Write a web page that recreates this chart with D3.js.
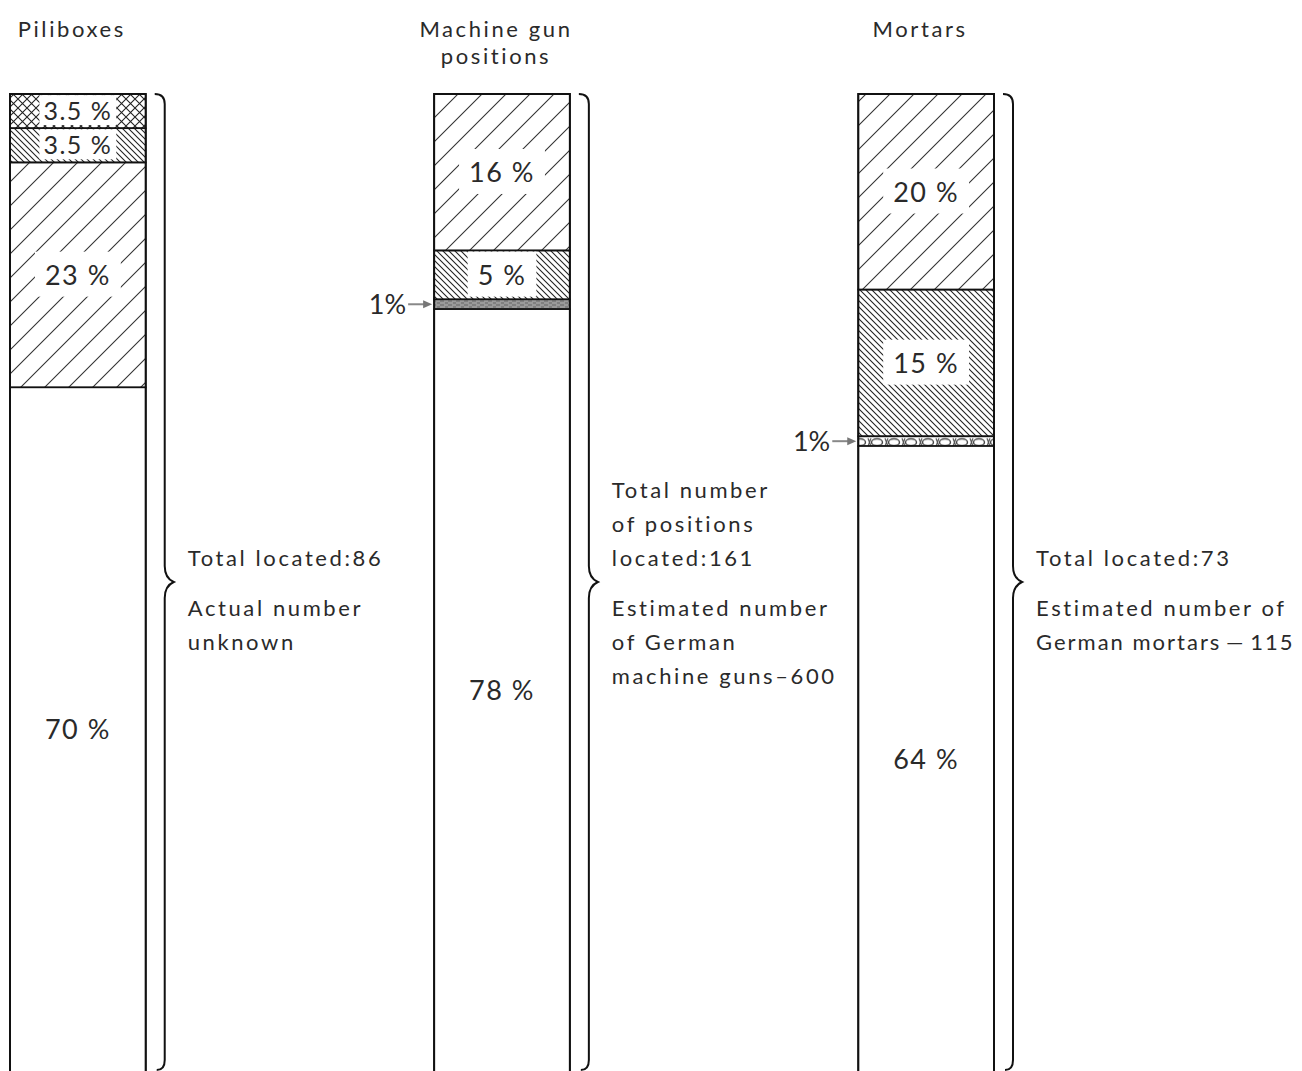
<!DOCTYPE html>
<html>
<head>
<meta charset="utf-8">
<script src="https://cdn.jsdelivr.net/npm/d3@7"></script>
<style>
  body { margin: 0; background: #fff; }
  svg text { font-family: "Lato", "Open Sans", sans-serif; font-weight: 400; fill: #2a2a2a; }
</style>
</head>
<body>
<div id="vis"></div>
<script>
// Data: one column per category, segments from top to bottom
const CATEGORIES = ["Piliboxes", "Machine gun positions", "Mortars"];
const TITLE_LINES = [["Piliboxes"], ["Machine gun", "positions"], ["Mortars"]];

const PILLBOX_VALUES = [3.5, 3.5, 23, 70];
const MG_VALUES = [16, 5, 1, 78];
const MORTAR_VALUES = [20, 15, 1, 64];

const PILLBOX_FILLS = ["cross", "dense", "sparse", "none"];
const MG_FILLS = ["sparse", "dense", "gray", "none"];
const MORTAR_FILLS = ["sparse", "dense", "rings", "none"];

const PILLBOX_LABELS = ["3.5 %", "3.5 %", "23 %", "70 %"];
const MG_LABELS = ["16 %", "5 %", "1%", "78 %"];
const MORTAR_LABELS = ["20 %", "15 %", "1%", "64 %"];

const NOTES_TOP = [["Total located:86"], ["Total number", "of positions", "located:161"], ["Total located:73"]];
const NOTES_BOTTOM = [["Actual number", "unknown"], ["Estimated number", "of German", "machine guns\u2013600"], ["Estimated number of", "German mortars\u2009\u2014\u2009115"]];

const ALL_VALUES = [PILLBOX_VALUES, MG_VALUES, MORTAR_VALUES];
const ALL_FILLS = [PILLBOX_FILLS, MG_FILLS, MORTAR_FILLS];
const ALL_LABELS = [PILLBOX_LABELS, MG_LABELS, MORTAR_LABELS];

// Frame
const FRAME_WIDTH = 1302;
const FRAME_HEIGHT = 1071;

const svg = d3.select("#vis")
  .append("svg")
    .attr("width", FRAME_WIDTH)
    .attr("height", FRAME_HEIGHT);

// scales
const X_SCALE = d3.scaleBand()
  .domain(CATEGORIES)
  .range([10, 994])
  .paddingInner(0.68)
  .paddingOuter(0);

const Y_SCALE = d3.scaleLinear()
  .domain([0, 100])
  .range([94, 1072]);

// Hatch patterns
const defs = svg.append("defs");

const sparse = defs.append("pattern")
  .attr("id", "sparse").attr("patternUnits", "userSpaceOnUse")
  .attr("width", 24).attr("height", 24);
sparse.append("path").attr("d", "M-6,30 L30,-6 M-6,6 L6,-6 M18,30 L30,18")
  .attr("stroke", "#333").attr("stroke-width", 1.1);

const dense = defs.append("pattern")
  .attr("id", "dense").attr("patternUnits", "userSpaceOnUse")
  .attr("width", 6).attr("height", 6);
dense.append("path").attr("d", "M-2,-2 L8,8 M-2,4 L2,8 M4,-2 L8,2")
  .attr("stroke", "#222").attr("stroke-width", 1.1);

const cross = defs.append("pattern")
  .attr("id", "cross").attr("patternUnits", "userSpaceOnUse")
  .attr("width", 9).attr("height", 9);
cross.append("path").attr("d", "M0,0 L9,9 M9,0 L0,9")
  .attr("stroke", "#222").attr("stroke-width", 1.1);

const gray = defs.append("pattern")
  .attr("id", "gray").attr("patternUnits", "userSpaceOnUse")
  .attr("width", 8).attr("height", 4);
gray.append("rect").attr("width", 8).attr("height", 4).attr("fill", "#9a9a9a");
gray.append("path").attr("d", "M0,1 L4,1 M5,3 L8,3")
  .attr("stroke", "#666").attr("stroke-width", 1);

const rings = defs.append("pattern")
  .attr("id", "rings").attr("patternUnits", "userSpaceOnUse")
  .attr("width", 17).attr("height", 12).attr("y", Y_SCALE(35));
rings.append("ellipse").attr("cx", 10).attr("cy", 6).attr("rx", 5.5).attr("ry", 3.5)
  .attr("fill", "none").attr("stroke", "#444").attr("stroke-width", 1.4);
rings.append("path").attr("d", "M1,2 L4,10 M4,2 L1,10")
  .attr("stroke", "#555").attr("stroke-width", 1.2);

// shrink letter spacing if a note would run off the right edge
function fitNote(sel) {
  let ls = 2.6;
  while (ls > 0 && sel.node().getBBox().x + sel.node().getBBox().width > FRAME_WIDTH - 6) {
    ls -= 0.2;
    sel.attr("letter-spacing", ls);
  }
}

// Build the columns
ALL_VALUES.forEach((values, i) => {
  const cat = CATEGORIES[i];
  const x0 = X_SCALE(cat);
  const bw = X_SCALE.bandwidth();
  const cx = x0 + bw / 2;

  // stack
  let acc = 0;
  const segs = values.map((v, j) => {
    const s = {start: acc, end: acc + v, fill: ALL_FILLS[i][j], label: ALL_LABELS[i][j]};
    acc += v;
    return s;
  });

  const g = svg.append("g");

  g.selectAll("rect.seg")
    .data(segs)
    .enter()
    .append("rect")
      .attr("class", "seg")
      .attr("x", x0)
      .attr("y", (d) => Y_SCALE(d.start))
      .attr("width", bw)
      .attr("height", (d) => Y_SCALE(d.end) - Y_SCALE(d.start))
      .attr("fill", (d) => d.fill === "none" ? "#fff" : "url(#" + d.fill + ")")
      .attr("stroke", "#111")
      .attr("stroke-width", 1.6);

  // outline
  g.append("rect")
    .attr("x", x0).attr("y", Y_SCALE(0))
    .attr("width", bw).attr("height", Y_SCALE(100) - Y_SCALE(0))
    .attr("fill", "none").attr("stroke", "#111").attr("stroke-width", 2);

  // labels in segments
  segs.forEach((d) => {
    const h = Y_SCALE(d.end) - Y_SCALE(d.start);
    const my = (Y_SCALE(d.start) + Y_SCALE(d.end)) / 2;
    if (h < 20) {
      // small segment: label outside with arrow
      const tx = x0 - 28;
      g.append("text")
        .attr("x", tx).attr("y", my + 10)
        .attr("text-anchor", "end")
        .attr("font-size", 27)
        .text(d.label);
      g.append("line")
        .attr("x1", tx + 2).attr("y1", my)
        .attr("x2", x0 - 6).attr("y2", my)
        .attr("stroke", "#888").attr("stroke-width", 2);
      g.append("path")
        .attr("d", "M" + (x0 - 2) + "," + my + " l-9,-4 l0,8 z")
        .attr("fill", "#777");
      return;
    }
    const fs = h < 40 ? 25 : 27;
    const t = g.append("text")
      .attr("x", cx).attr("y", my + fs * 0.36)
      .attr("text-anchor", "middle")
      .attr("font-size", fs)
      .attr("letter-spacing", 1.5)
      .text(d.label);
    if (d.fill !== "none") {
      const bb = t.node().getBBox();
      const padX = h < 40 ? 4 : 10, padY = h < 40 ? 0 : 6;
      g.insert("rect", "text")
        .attr("x", bb.x - padX)
        .attr("y", Math.max(bb.y - padY, Y_SCALE(d.start) + 1))
        .attr("width", bb.width + 2 * padX)
        .attr("height", Math.min(bb.height + 2 * padY, h - 2))
        .attr("fill", "#fff");
    }
  });

  // title
  TITLE_LINES[i].forEach((line, k) => {
    svg.append("text")
      .attr("x", cx - 6).attr("y", 37 + k * 27)
      .attr("text-anchor", "middle")
      .attr("font-size", 22)
      .attr("letter-spacing", 2.6)
      .text(line);
  });

  // brace
  const bx = x0 + bw + 19;
  const top = Y_SCALE(0), bot = Y_SCALE(100) - 2, mid = (top + bot) / 2;
  g.append("path")
    .attr("d",
      "M" + (bx - 10) + "," + top +
      " Q" + bx + "," + top + " " + bx + "," + (top + 10) +
      " L" + bx + "," + (mid - 16) +
      " Q" + bx + "," + (mid - 4) + " " + (bx + 9) + "," + mid +
      " Q" + bx + "," + (mid + 4) + " " + bx + "," + (mid + 16) +
      " L" + bx + "," + (bot - 10) +
      " Q" + bx + "," + bot + " " + (bx - 8) + "," + bot)
    .attr("fill", "none").attr("stroke", "#111").attr("stroke-width", 2);

  // notes
  const nx = bx + 23;
  const topLines = NOTES_TOP[i];
  topLines.forEach((line, k) => {
    const t = svg.append("text")
      .attr("x", nx).attr("y", mid - 16 - (topLines.length - 1 - k) * 34)
      .attr("font-size", 22).attr("letter-spacing", 2.6)
      .text(line);
    fitNote(t);
  });
  NOTES_BOTTOM[i].forEach((line, k) => {
    const t = svg.append("text")
      .attr("x", nx).attr("y", mid + 34 + k * 34)
      .attr("font-size", 22).attr("letter-spacing", 2.6)
      .text(line);
    fitNote(t);
  });
});
</script>
</body>
</html>
